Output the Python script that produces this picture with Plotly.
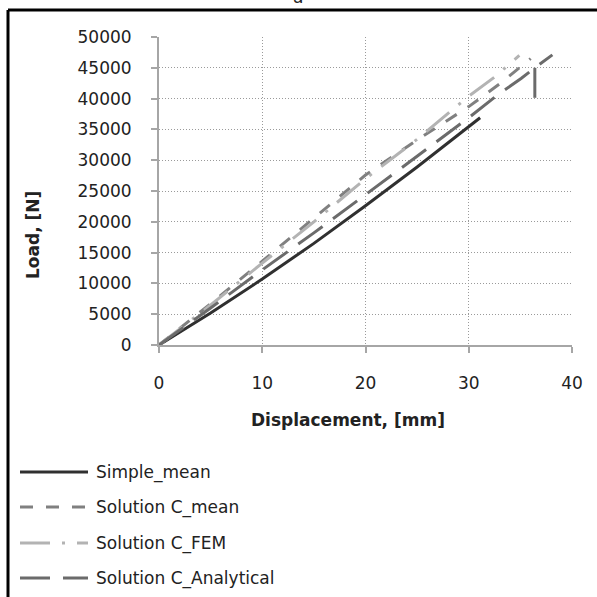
import plotly.graph_objects as go

# ---------------- data ----------------
series_names = ["Simple_mean", "Solution C_mean", "Solution C_FEM", "Solution C_Analytical"]

simple_x = [0, 5, 10, 15, 20, 25, 31.1]
simple_y = [0, 5200, 10700, 16500, 22600, 28900, 36900]

cmean_x = [0, 5, 10, 15, 20, 25, 30, 33, 36.0]
cmean_y = [0, 6700, 13600, 20600, 27600, 33300, 38700, 42400, 46500]

fem_x = [0, 5, 10, 15, 20, 25, 30, 32.5, 34.9]
fem_y = [0, 6500, 13300, 20000, 27000, 33400, 40400, 43500, 47000]

# analytical curve, then (after a gap) the vertical load drop at failure
anal_x = [0, 5, 10, 15, 20, 25, 30, 32.8, 35.1, 36.4, 38.1, None, 36.4, 36.4]
anal_y = [0, 6000, 12200, 18200, 24400, 30600, 36900, 40600, 43300, 45000, 47100, None, 45000, 38800]

x_ticks = [0, 10, 20, 30, 40]
y_ticks = [0, 5000, 10000, 15000, 20000, 25000, 30000, 35000, 40000, 45000, 50000]

# ---------------- styles ----------------
W, H = 597, 597
L, R, T, B = 159, 25, 37, 252
PW, PH = W - L - R, H - T - B

def px(x):
    return (x - L) / PW

def py(y):
    return (H - B - y) / PH

FONT = "DejaVu Sans"
TXT = "#222222"
styles = [
    dict(color="#303030", width=3, dash="solid"),
    dict(color="#808080", width=3, dash="13px,13px"),
    dict(color="#b3b3b3", width=3, dash="30px,12px,3px,12px"),
    dict(color="#6b6b6b", width=3, dash="30px,13px"),
]
xs = [simple_x, cmean_x, fem_x, anal_x]
ys = [simple_y, cmean_y, fem_y, anal_y]

fig = go.Figure()
for name, x, y, st in zip(series_names, xs, ys, styles):
    fig.add_trace(go.Scatter(x=x, y=y, name=name, mode="lines",
                             line=st, connectgaps=False, showlegend=False))

axis_common = dict(
    showgrid=True, gridcolor="#9a9a9a", gridwidth=1, griddash="1px,2px",
    showline=True, linecolor="#a6a6a6", linewidth=2,
    ticks="outside", ticklen=6, tickcolor="#a6a6a6", tickwidth=1.5,
    tickfont=dict(family=FONT, size=17, color=TXT),
    zeroline=False, mirror=False,
)
fig.update_xaxes(range=[0, 40], tickvals=x_ticks, ticktext=[str(v) for v in x_ticks],
                 ticklabelstandoff=16, **axis_common)
fig.update_yaxes(range=[0, 50000], tickvals=y_ticks, ticktext=[str(v) for v in y_ticks],
                 ticklabelstandoff=16, **axis_common)

shapes = [
    # outer frame (left and top edges visible)
    dict(type="line", xref="paper", yref="paper", x0=px(8), x1=px(8), y0=py(10), y1=py(605),
         line=dict(color="black", width=3)),
    dict(type="line", xref="paper", yref="paper", x0=px(8), x1=px(605), y0=py(10), y1=py(10),
         line=dict(color="black", width=3)),
]
annotations = [
    dict(text="a", x=px(298), y=py(9), xref="paper", yref="paper", xanchor="center",
         yanchor="bottom", showarrow=False, font=dict(family=FONT, size=17, color=TXT)),
    dict(text="<b>Displacement, [mm]</b>", x=px(348), y=py(420), xref="paper", yref="paper",
         xanchor="center", yanchor="middle", showarrow=False,
         font=dict(family=FONT, size=17, color=TXT)),
    dict(text="<b>Load, [N]</b>", x=px(33), y=py(235), xref="paper", yref="paper",
         xanchor="center", yanchor="middle", textangle=-90, showarrow=False,
         font=dict(family=FONT, size=17, color=TXT)),
]

# legend (drawn below the plot, left aligned)
leg_rows = [472, 507, 543, 578]
for name, st, ry in zip(series_names, styles, leg_rows):
    shapes.append(dict(type="line", xref="paper", yref="paper", x0=px(20), x1=px(88),
                       y0=py(ry), y1=py(ry), line=st))
    annotations.append(dict(text=name, x=px(94), y=py(ry), xref="paper", yref="paper",
                            xanchor="left", yanchor="middle", showarrow=False,
                            font=dict(family=FONT, size=17, color=TXT)))

fig.update_layout(
    width=W, height=H,
    margin=dict(l=L, r=R, t=T, b=B),
    paper_bgcolor="white", plot_bgcolor="white",
    shapes=shapes, annotations=annotations,
    showlegend=False,
)
fig.write_html("out.html")
